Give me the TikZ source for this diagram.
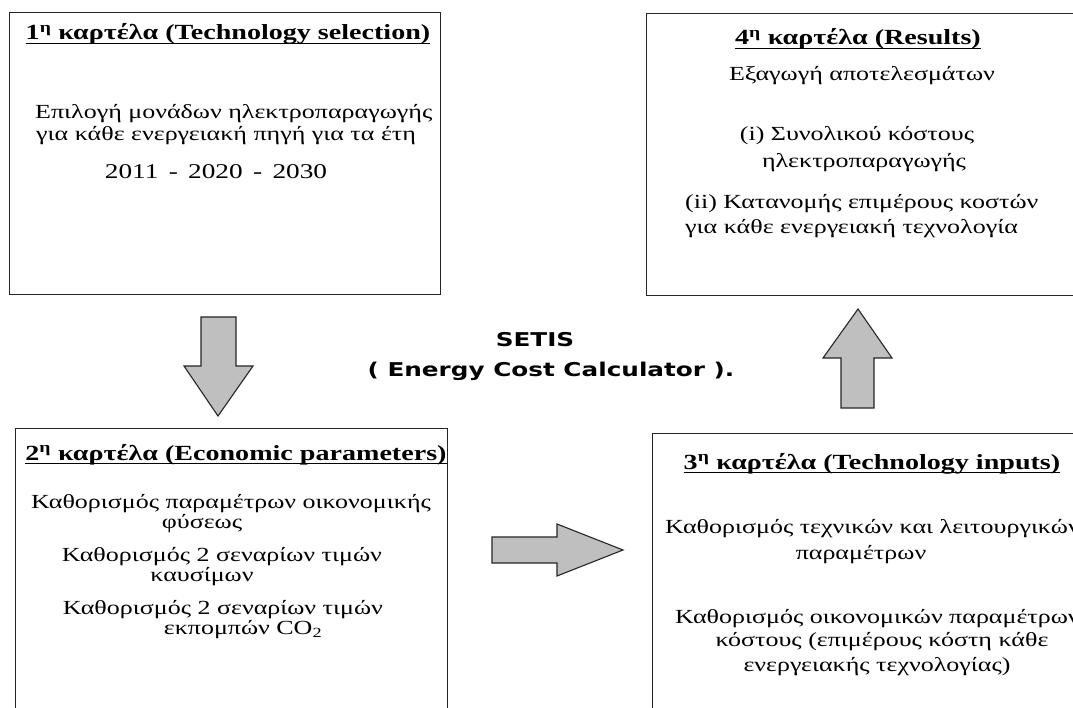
\documentclass[tikz,border=0pt]{standalone}
\usepackage{fontspec}
\setmainfont{Liberation Serif}[FakeStretch=1.3]
\newfontfamily\setisfont{DejaVu Sans}[FakeStretch=1.3]
\usepackage{tikz}
\usetikzlibrary{positioning}

\begin{document}
\begin{tikzpicture}[x=1pt,y=-1pt,
  tab/.style={draw=black!85,line width=1.4pt,anchor=north west,inner sep=0pt},
  head/.style={inner sep=0pt,anchor=base,font=\fontsize{21.6}{24}\selectfont\bfseries},
  body/.style={inner sep=0pt,anchor=base,font=\fontsize{20}{22}\selectfont},
  bodyl/.style={body,anchor=base west},
  uline/.style={line width=1.5pt},
  bigarrow/.style={draw=black!85,line width=1.1pt,fill=black!25,line join=miter}]
\useasboundingbox (0,0) rectangle (1073,708);
\fill[white] (0,0) rectangle (1073,708);
\clip (0,0) rectangle (1073,708);

% the four tabs
\node[tab,minimum width=431,minimum height=282] (tab1) at (9,12) {};
\node[tab,minimum width=460,minimum height=282] (tab4) at (646,13) {};
\node[tab,minimum width=432,minimum height=320] (tab2) at (15,428) {};
\node[tab,minimum width=460,minimum height=320] (tab3) at (652,433) {};

% 1st tab
\node[head] (h1) at (228,40) {1\textsuperscript{η} καρτέλα (Technology selection)};
\node[bodyl] (t1a) at (35,119) {Επιλογή μονάδων ηλεκτροπαραγωγής};
\node[bodyl] (t1b) at (36,141) {για κάθε ενεργειακή πηγή για τα έτη};
\node[body,font=\fontsize{21}{24}\selectfont] (t1c) at (216,179) {2011 \,-\, 2020 \,-\, 2030};

% 4th tab
\node[head] (h4) at (858,45) {4\textsuperscript{η} καρτέλα (Results)};
\begin{scope}[every node/.append style={font=\fontsize{21.5}{24}\selectfont}]
\node[body] (t4a) at (862,81) {Εξαγωγή αποτελεσμάτων};
\node[body] (t4b) at (857,141) {(i) Συνολικού κόστους};
\node[body] (t4c) at (864,168) {ηλεκτροπαραγωγής};
\node[bodyl] (t4d) at (685,209) {(ii) Κατανομής επιμέρους κοστών};
\node[bodyl] (t4e) at (685,234) {για κάθε ενεργειακή τεχνολογία};
\end{scope}

% 2nd tab
\node[head] (h2) at (236,460) {2\textsuperscript{η} καρτέλα (Economic parameters)};
\node[body] (t2a) at (231,508) {Καθορισμός παραμέτρων οικονομικής};
\node[body] (t2b) at (202,528) {φύσεως};
\node[body] (t2c) at (222,561) {Καθορισμός 2 σεναρίων τιμών};
\node[body] (t2d) at (202,581) {καυσίμων};
\node[body] (t2e) at (223,614) {Καθορισμός 2 σεναρίων τιμών};
\node[body] (t2f) at (243,634) {εκπομπών CO\textsubscript{2}};

% 3rd tab
\node[head] (h3) at (872,469) {3\textsuperscript{η} καρτέλα (Technology inputs)};
\node[bodyl] (t3a) at (665,533) {Καθορισμός τεχνικών και λειτουργικών};
\node[body] (t3b) at (861,559) {παραμέτρων};
\node[bodyl] (t3c) at (675,623) {Καθορισμός οικονομικών παραμέτρων};
\node[body] (t3d) at (882,646) {κόστους (επιμέρους κόστη κάθε};
\node[body] (t3e) at (877,671) {ενεργειακής τεχνολογίας)};

% underlined titles
\foreach \h in {h1,h2,h3,h4}
  \draw[uline] ([yshift=-3.5pt]\h.base west) -- ([yshift=-3.5pt]\h.base east);

% title in the middle
\node[anchor=base,font=\setisfont\fontsize{19}{22}\selectfont\bfseries] (setis) at (535,346) {SETIS};
\node[anchor=base,font=\setisfont\fontsize{19}{22}\selectfont\bfseries] (ecc) at (551,377) {( Energy Cost Calculator ).};

% block arrows between the tabs
\draw[bigarrow] (201,317) -- (236,317) -- (236,366) -- (253,366) -- (218,416)
  -- (184,366) -- (201,366) -- cycle;
\draw[bigarrow] (492,537) -- (557,537) -- (557,524) -- (623,550) -- (557,576)
  -- (557,563) -- (492,563) -- cycle;
\draw[bigarrow] (841,408) -- (874,408) -- (874,358) -- (892,358) -- (858,309)
  -- (823,358) -- (841,358) -- cycle;
\end{tikzpicture}
\end{document}
